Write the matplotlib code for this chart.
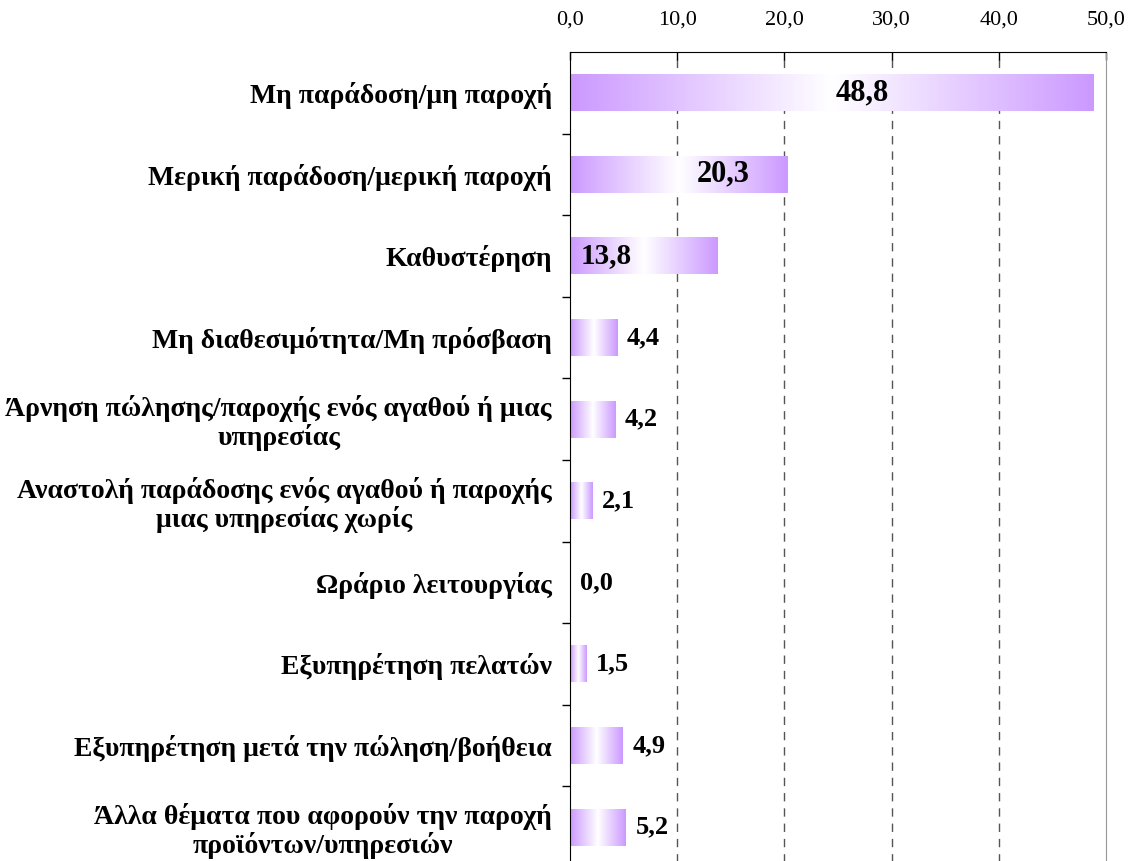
import numpy as np
import matplotlib.pyplot as plt
from matplotlib.colors import LinearSegmentedColormap
from matplotlib.ticker import FixedLocator

# data
categories = [
    "Μη παράδοση/μη παροχή",
    "Μερική παράδοση/μερική παροχή",
    "Καθυστέρηση",
    "Μη διαθεσιμότητα/Μη πρόσβαση",
    "Άρνηση πώλησης/παροχής ενός αγαθού ή μιας\nυπηρεσίας",
    "Αναστολή παράδοσης ενός αγαθού ή παροχής\nμιας υπηρεσίας χωρίς",
    "Ωράριο λειτουργίας",
    "Εξυπηρέτηση πελατών",
    "Εξυπηρέτηση μετά την πώληση/βοήθεια",
    "Άλλα θέματα που αφορούν την παροχή\nπροϊόντων/υπηρεσιών",
]
values = [48.8, 20.3, 13.8, 4.4, 4.2, 2.1, 0.0, 1.5, 4.9, 5.2]
xticks = [0, 10, 20, 30, 40, 50]

# where each value label sits (Excel-like placement)
label_mode = ["center", "center", "inside", "end", "end", "end", "end", "end", "end", "end"]

purple = (0.80, 0.60, 1.0)
cmap = LinearSegmentedColormap.from_list("grad", [purple, (1, 1, 1), purple])
grad = np.linspace(0, 1, 256).reshape(1, -1)

fig = plt.figure(figsize=(11.36, 8.61), dpi=100)
ax = fig.add_axes([570 / 1136, -7 / 861, 536 / 1136, 816 / 861])

n = len(categories)
ypos = np.arange(n)
bh = 0.45
for y, v in zip(ypos, values):
    if v > 0:
        ax.imshow(grad, cmap=cmap, aspect="auto", interpolation="bilinear",
                  extent=(0, v, y + bh / 2, y - bh / 2), zorder=2)

for y, v, m in zip(ypos, values, label_mode):
    txt = f"{v:.1f}".replace(".", ",")
    if m == "center":
        ax.annotate(txt, (v * 0.5, y), xytext=(22 if v > 30 else 32, 0),
                    textcoords="offset points", ha="center", va="center",
                    fontsize=22, fontweight="bold", family="Liberation Serif", zorder=3)
    elif m == "inside":
        ax.annotate(txt, (0, y), xytext=(8, 0), textcoords="offset points",
                    ha="left", va="center", fontsize=21, fontweight="bold",
                    family="Liberation Serif", zorder=3)
    else:
        ax.annotate(txt, (v, y), xytext=(7, 0), textcoords="offset points",
                    ha="left", va="center", fontsize=19, fontweight="bold",
                    family="Liberation Serif", zorder=3)

ax.set_xlim(0, 50)
ax.set_ylim(n - 0.5, -0.5)

ax.xaxis.tick_top()
ax.set_xticks(xticks)
ax.set_xticklabels([f"{t:.1f}".replace(".", ",") for t in xticks],
                   fontsize=16, family="Liberation Serif")
ax.tick_params(axis="x", direction="in", length=6, width=1, pad=16)
for t in xticks[1:-1]:
    ax.axvline(t, color="#555555", lw=1, ls=(0, (6, 5)), zorder=1)

ax.set_yticks(ypos)
ax.set_yticklabels(categories, fontsize=20, fontweight="bold",
                   family="Liberation Serif", multialignment="center",
                   linespacing=1.1)
ax.tick_params(axis="y", length=0, pad=13)
ax.yaxis.set_minor_locator(FixedLocator(np.arange(0.5, n - 0.5, 1)))
ax.tick_params(axis="y", which="minor", length=6, width=1, direction="out")

ax.spines["bottom"].set_visible(False)
ax.spines["right"].set_color("#999999")
ax.spines["top"].set_color("black")
ax.spines["left"].set_color("black")

fig.savefig("out.png", dpi=100)
